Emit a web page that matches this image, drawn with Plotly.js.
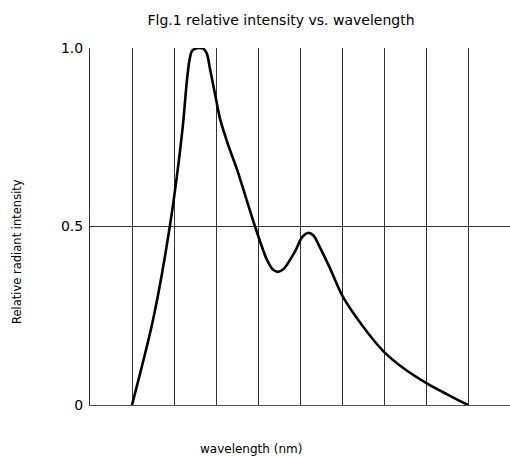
<!DOCTYPE html>
<html>
<head>
<meta charset="utf-8">
<script src="https://cdn.plot.ly/plotly-3.0.1.min.js"></script>
<style>html,body{margin:0;padding:0;background:#fff;}#chart{width:510px;height:457px;}</style>
</head>
<body>
<div id="chart"></div>
<script>
// wavelength position in grid divisions (0..10), relative intensity
const wavelength = [1.0, 1.5, 1.9, 2.2, 2.3, 2.36, 2.42, 2.5, 2.6, 2.7, 2.78, 2.86, 2.97, 3.1, 3.3, 3.5, 3.93, 4.2, 4.35, 4.47, 4.6, 4.88, 5.05, 5.19, 5.32, 5.48, 5.71, 6.0, 6.5, 7.0, 7.5, 8.0, 8.5, 9.0];
const intensity  = [0, 0.238, 0.5, 0.77, 0.9, 0.96, 0.99, 0.998, 1.0, 0.998, 0.985, 0.94, 0.875, 0.8, 0.725, 0.66, 0.5, 0.41, 0.38, 0.373, 0.38, 0.43, 0.47, 0.482, 0.475, 0.44, 0.384, 0.308, 0.22, 0.149, 0.1, 0.062, 0.03, 0];
const yTickVals = [0, 0.5, 1.0];
const yTickText = ["0", "0.5", "1.0"];
const titleText = "Flg.1 relative intensity vs. wavelength";
const xTitleText = "wavelength (nm)";
const yTitleText = "Relative radiant intensity";

const font = "DejaVu Sans";

Plotly.newPlot('chart', [{
  x: wavelength,
  y: intensity,
  type: 'scatter',
  mode: 'lines',
  line: {color: '#000', width: 2.6, shape: 'spline', smoothing: 0.8},
  hoverinfo: 'skip'
}], {
  width: 510, height: 457,
  margin: {l: 90, r: 0, t: 48, b: 52, pad: 0},
  paper_bgcolor: '#fff', plot_bgcolor: '#fff',
  showlegend: false,
  title: {text: titleText, font: {family: font, size: 14, color: '#000'}, xref: 'container', x: 0.551, xanchor: 'center', yref: 'container', y: 0.957, yanchor: 'middle'},
  xaxis: {
    range: [0, 10], dtick: 1, tick0: 0,
    showgrid: true, gridcolor: '#333', gridwidth: 1,
    showticklabels: false, ticks: '',
    zeroline: false, showline: true, linecolor: '#555', linewidth: 1.2,
    fixedrange: true
  },
  yaxis: {
    range: [0, 1], tickvals: yTickVals, ticktext: yTickText,
    showgrid: true, gridcolor: '#333', gridwidth: 1,
    ticks: 'outside', ticklen: 3, tickcolor: 'rgba(0,0,0,0)',
    tickfont: {family: font, size: 14, color: '#000'},
    zeroline: false, showline: true, linecolor: '#333', linewidth: 1,
    fixedrange: true
  },
  annotations: [
    {text: xTitleText, xref: 'paper', yref: 'paper', x: (251 - 90) / 420, y: -44 / 357, xanchor: 'center', yanchor: 'middle', showarrow: false, font: {family: font, size: 12, color: '#000'}},
    {text: yTitleText, xref: 'paper', yref: 'paper', x: (17 - 90) / 420, y: (405 - 252) / 357, xanchor: 'center', yanchor: 'middle', textangle: -90, showarrow: false, font: {family: font, size: 11.5, color: '#000'}}
  ]
}, {staticPlot: true, displayModeBar: false});
</script>
</body>
</html>
